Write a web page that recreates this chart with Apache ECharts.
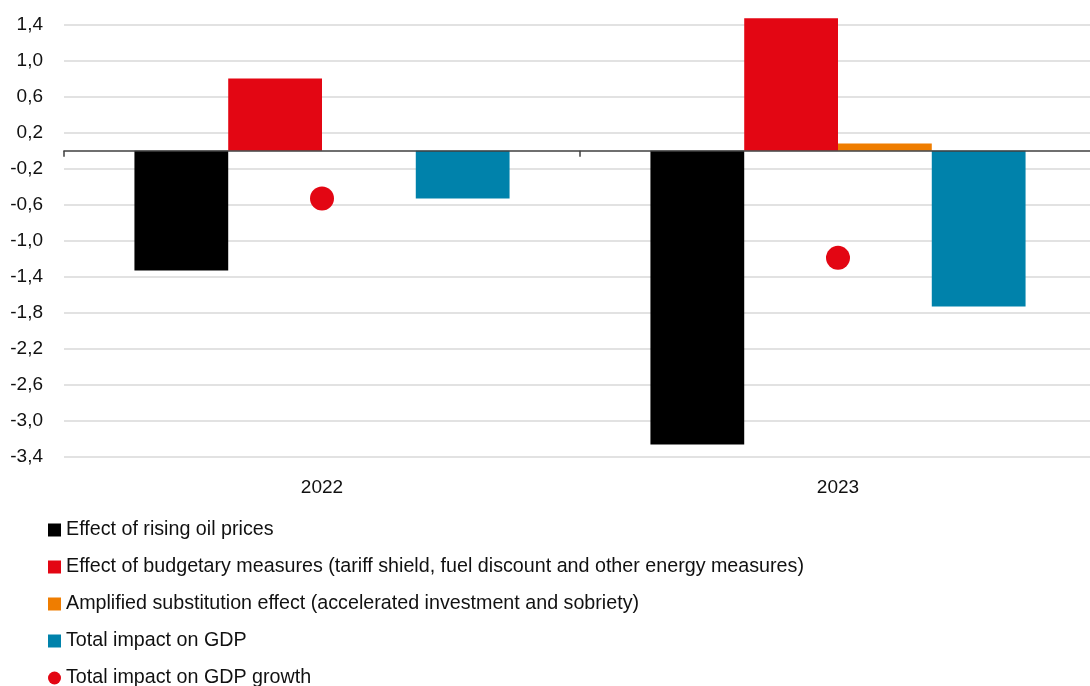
<!DOCTYPE html>
<html>
<head>
<meta charset="utf-8">
<script src="https://cdn.jsdelivr.net/npm/echarts@6/dist/echarts.min.js"></script>
<style>
  html, body { margin: 0; padding: 0; background: #fff; overflow: hidden; }
  /* plot area runs a few px past the right edge in the original, so the box is wider than the window */
  #chart { width: 1100px; height: 686px; }
</style>
</head>
<body>
<div id="chart"></div>
<script>
// data
const years = ['2022', '2023']
const oilPrices = [-1.33, -3.26]
const budgetMeasures = [0.80, 1.47]
const substitution = [0, 0.08]
const gdpImpact = [-0.53, -1.73]
const gdpGrowth = [-0.53, -1.19]

const seriesNames = [
  'Effect of rising oil prices',
  'Effect of budgetary measures (tariff shield, fuel discount and other energy measures)',
  'Amplified substitution effect (accelerated investment and sobriety)',
  'Total impact on GDP',
  'Total impact on GDP growth'
]
const colors = ['#000000', '#e30613', '#ef7d00', '#0082ab', '#e30613']

const font = "'Liberation Sans', Arial, sans-serif"
const chart = echarts.init(document.getElementById('chart'))

function barSeries (i, data) {
  return {
    name: seriesNames[i],
    type: 'bar',
    data: data,
    barGap: 0,
    barCategoryGap: '27.3%',
    clip: false, // 2023 budget bar goes a bit above the last tick
    itemStyle: { color: colors[i] }
  }
}

const option = {
  animation: false,
  backgroundColor: '#fff',
  textStyle: { fontFamily: font },
  grid: { left: 64, top: 24.5, width: 1032, height: 432.5, containLabel: false },
  legend: {
    orient: 'vertical',
    left: 43,
    top: 515,
    height: 300,
    itemGap: 17,
    itemWidth: 13,
    itemHeight: 13,
    textStyle: { fontSize: 19.7, color: '#111', fontFamily: font },
    data: [
      { name: seriesNames[0], icon: 'rect' },
      { name: seriesNames[1], icon: 'rect' },
      { name: seriesNames[2], icon: 'rect' },
      { name: seriesNames[3], icon: 'rect' },
      { name: seriesNames[4], icon: 'circle' }
    ]
  },
  xAxis: [
    {
      // zero line with category ticks
      type: 'category',
      data: years,
      axisLine: { onZero: true, lineStyle: { color: '#404040', width: 1.5 } },
      axisTick: { show: true, length: 6, lineStyle: { color: '#404040', width: 1.5 } },
      axisLabel: { show: false },
      splitLine: { show: false },
      z: 5
    },
    {
      // year labels at the bottom
      type: 'category',
      data: years,
      position: 'bottom',
      axisLine: { show: false, onZero: false },
      axisTick: { show: false },
      axisLabel: { fontSize: 19, color: '#111', margin: 21, fontFamily: font }
    }
  ],
  yAxis: {
    type: 'value',
    min: -3.4,
    max: 1.4,
    interval: 0.4,
    axisLine: { show: false },
    axisTick: { show: false },
    splitLine: { lineStyle: { color: '#d9d9d9', width: 1.5 } },
    axisLabel: {
      fontSize: 19,
      color: '#111',
      margin: 21,
      fontFamily: font,
      formatter: v => v.toFixed(1).replace('.', ',')
    }
  },
  series: [
    barSeries(0, oilPrices),
    barSeries(1, budgetMeasures),
    barSeries(2, substitution),
    barSeries(3, gdpImpact),
    {
      name: seriesNames[4],
      type: 'scatter',
      data: gdpGrowth,
      symbol: 'circle',
      symbolSize: 24,
      itemStyle: { color: colors[4], opacity: 1 },
      z: 10
    }
  ]
}

chart.setOption(option)
</script>
</body>
</html>
